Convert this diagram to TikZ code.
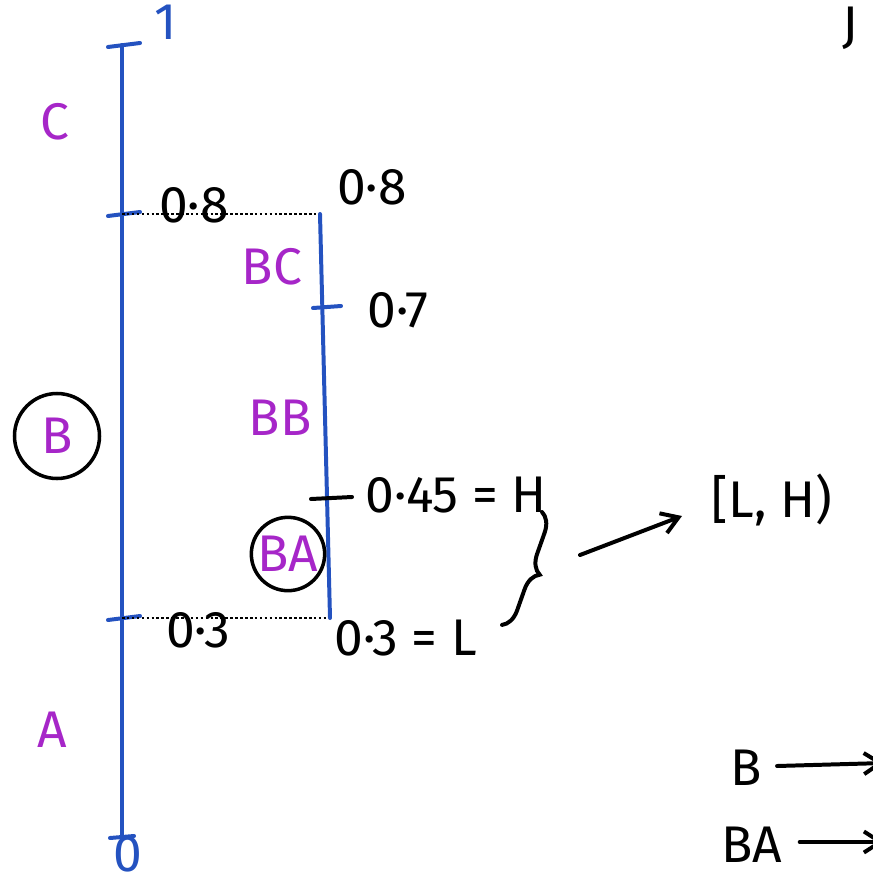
\documentclass[tikz,border=0pt]{standalone}
\usepackage{fontspec}
\setmainfont{Fira Sans}
\usetikzlibrary{positioning,arrows.meta,decorations.pathreplacing}

\definecolor{penblue}{HTML}{2452C0}
\definecolor{penpurple}{HTML}{A626C8}

\tikzset{
  ink/.style={line width=3.4pt, line cap=round},
  bluepen/.style={ink, penblue},
  lbl/.style={font=\fontsize{44}{48}\selectfont, inner sep=1pt},
  part/.style={lbl, text=penpurple},
  ringed/.style={draw, circle, line width=3pt, inner sep=0pt},
  pointer/.style={ink, -{Straight Barb[length=14pt,width=18pt]}},
}

\begin{document}
\begin{tikzpicture}[x=0.03cm, y=-0.03cm]

  \useasboundingbox (0,0) rectangle (873,887);
  \clip (0,0) rectangle (873,887);

  % ---------------- the whole interval ----------------
  \coordinate (top) at (122,45);
  \coordinate (bot) at (122,838);
  \coordinate (m8) at (122,214);
  \coordinate (m3) at (122,618);
  \draw[bluepen] (top) -- (bot);
  \draw[bluepen] (108,47) -- (140,43);
  \draw[bluepen] (108,216) -- (140,212);
  \draw[bluepen] (108,620) -- (140,616);
  \draw[bluepen] (110,838) -- (134,836);
  \node[lbl, text=penblue] (one) at (166,22) {1};
  \node[lbl, text=penblue] (zero) at (128,854) {0};
  \node[lbl] (l8) at (194,205) {0·8};
  \node[lbl] (l3) at (198,630) {0·3};

  % symbols
  \node[part] (symC) at (55,122) {C};
  \node[part, ringed, minimum size=2.55cm] (symB) at (57,436) {B};
  \node[part] (symA) at (52,730) {A};

  % ---------------- zoom on B ----------------
  \coordinate (r8) at (320,214);
  \coordinate (r3) at (330,618);
  \draw[dotted, line width=2.2pt] (m8) -- (r8);
  \draw[dotted, line width=2.2pt] (m3) -- (r3);
  \draw[bluepen] (r8) -- (r3);
  \draw[bluepen] (313,308) -- (341,306);
  \draw[ink] (311,499) -- (352,497);
  \node[lbl] (z8) at (372,187) {0·8};
  \node[lbl] (z7) at (398,310) {0·7};
  \node[lbl, anchor=west] (z45) at (364,495) {0·45 = H};
  \node[lbl, anchor=west] (z3) at (333,638) {0·3 = L};

  \node[part] (symBC) at (272,267) {BC};
  \node[part] (symBB) at (280,418) {BB};
  \node[part, ringed, minimum size=2.2cm] (symBA) at (288,554) {BA};

  % the range picked out
  \coordinate (brtop) at (542,512);
  \coordinate (brbot) at (502,625);
  \draw[ink, decorate, decoration={brace, amplitude=16pt}] (brtop) -- (brbot);
  \coordinate (arrfrom) at (580,555);
  \node[lbl] (range) at (772,500) {[L, H)};
  \draw[pointer] (arrfrom) -- (682,516);

  % ---------------- notes at the edge ----------------
  \node[lbl] (topJ) at (850,28) {J};
  \node[lbl] (noteB) at (746,768) {B};
  \node[lbl] (noteBA) at (752,845) {BA};
  \coordinate (endB) at (884,763);
  \coordinate (endBA) at (884,842);
  \draw[pointer] (noteB.east) ++(14,-2) -- (endB);
  \draw[pointer] (noteBA.east) ++(16,-3) -- (endBA);

\end{tikzpicture}
\end{document}
